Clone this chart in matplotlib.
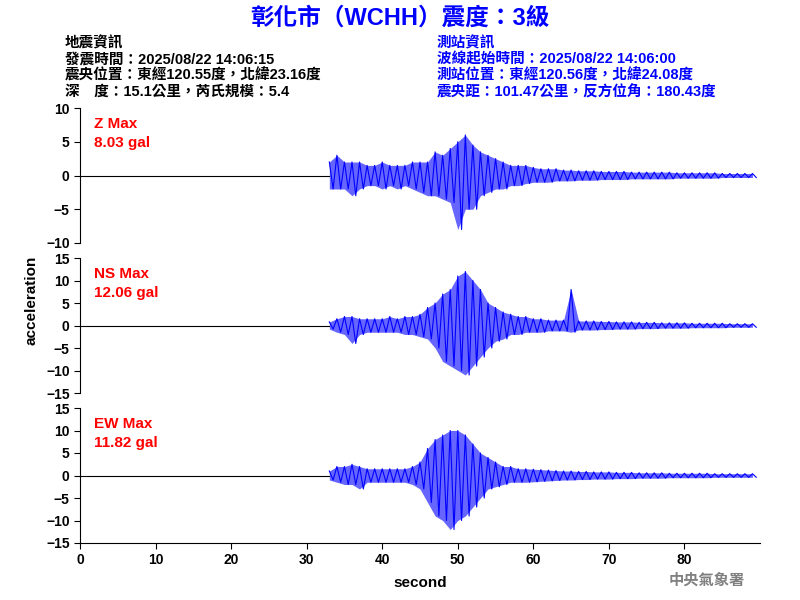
import matplotlib
matplotlib.use("Agg")
import matplotlib.pyplot as plt
import numpy as np

plt.rcParams['font.family'] = ['Liberation Sans', 'Noto Sans CJK TC', 'DejaVu Sans']

sec = list(range(33, 90))
z_up = [2,3,2,2,2,1.5,1.5,2,1.5,1.5,1.5,2,2,2,3.5,3,4,5,6,4.5,3.5,3,2.5,2,1.5,1.5,1.5,1.2,1,1,1,0.8,0.8,0.7,0.7,0.7,0.6,0.6,0.6,0.6,0.5,0.5,0.5,0.5,0.5,0.5,0.4,0.4,0.4,0.4,0.4,0.4,0.3,0.3,0.3,0.3,0.3]
z_lo = [-2,-2,-2,-3,-2,-1.5,-1.5,-2,-1.5,-2,-1.5,-2,-2.5,-3,-3,-3.5,-4,-8,-5,-5,-3,-2.5,-2,-2,-1.5,-1.5,-1.2,-1,-1,-1,-0.8,-0.8,-0.8,-0.7,-0.7,-0.7,-0.6,-0.6,-0.6,-0.6,-0.5,-0.5,-0.5,-0.5,-0.5,-0.5,-0.4,-0.4,-0.4,-0.4,-0.4,-0.4,-0.3,-0.3,-0.3,-0.3,-0.3]
ns_up = [0.8,1.5,2,2,1.5,1.5,1.5,1.5,2,1.5,2,2,2.5,4,5,7,8,11,12,10,8,5,4,3,2.5,2,2,1.5,1.5,1.2,1.2,1.2,8,1,1,1,0.9,0.9,0.8,0.8,0.8,0.7,0.7,0.7,0.6,0.6,0.6,0.6,0.5,0.5,0.5,0.5,0.5,0.4,0.4,0.4,0.4]
ns_lo = [-0.8,-1.5,-2,-4,-2,-1.5,-1.5,-1.5,-1.5,-1.5,-2,-2,-2.5,-3,-5,-8,-9,-10,-11,-9,-7,-5,-3.5,-3,-2,-2,-1.5,-1.5,-1.5,-1.2,-1.2,-1.2,-1.5,-1,-1,-1,-0.9,-0.9,-0.8,-0.8,-0.8,-0.7,-0.7,-0.7,-0.6,-0.6,-0.6,-0.6,-0.5,-0.5,-0.5,-0.5,-0.5,-0.4,-0.4,-0.4,-0.4]
ew_up = [1,2,2,2.5,2,1.5,1.5,1.5,1.5,1.5,1.5,2,3,6,8,9,10,10,9,7,5,4,3,2,2,1.5,1.5,1.4,1.3,1.2,1.1,1,1,0.9,0.9,0.8,0.8,0.8,0.7,0.7,0.7,0.6,0.6,0.6,0.6,0.5,0.5,0.5,0.5,0.5,0.5,0.4,0.4,0.4,0.4,0.4,0.4]
ew_lo = [-1,-1.5,-2,-2,-3,-1.5,-1.5,-1.5,-1.5,-1.5,-1.5,-2,-3,-6,-9,-10,-12,-10,-9,-7,-5,-3,-2.5,-2,-1.5,-1.5,-1.5,-1.4,-1.3,-1.2,-1.1,-1,-1,-0.9,-0.9,-0.8,-0.8,-0.8,-0.7,-0.7,-0.7,-0.6,-0.6,-0.6,-0.6,-0.5,-0.5,-0.5,-0.5,-0.5,-0.5,-0.4,-0.4,-0.4,-0.4,-0.4,-0.4]

labels = ["Z Max\n8.03 gal", "NS Max\n12.06 gal", "EW Max\n11.82 gal"]
ylims = [10, 15, 15]
yticks = [[-10,-5,0,5,10], [-15,-10,-5,0,5,10,15], [-15,-10,-5,0,5,10,15]]
series = [(z_up, z_lo), (ns_up, ns_lo), (ew_up, ew_lo)]

left_lines = ["地震資訊", "發震時間：2025/08/22 14:06:15", "震央位置：東經120.55度，北緯23.16度", "深　度：15.1公里，芮氏規模：5.4"]
right_lines = ["測站資訊", "波線起始時間：2025/08/22 14:06:00", "測站位置：東經120.56度，北緯24.08度", "震央距：101.47公里，反方位角：180.43度"]

fig = plt.figure(figsize=(8, 6), dpi=100)
tops = [108, 258, 408]
for i in range(3):
    ax = fig.add_axes([80/800, 1 - (tops[i]+135)/600, 680/800, 135/600])
    up, lo = series[i]
    xs, ys = [], []
    for t, u, l in zip(sec, up, lo):
        xs += [t, t + 0.5]
        ys += [u, l]
    ax.plot([0, sec[0]], [0, 0], color='black', lw=0.8)
    ax.fill_between(sec, lo, up, color='blue', alpha=0.6, lw=0)
    ax.plot(xs, ys, color='blue', lw=0.8)
    ax.set_xlim(0, 90)
    ax.set_ylim(-ylims[i], ylims[i])
    ax.set_yticks(yticks[i])
    ax.spines['top'].set_visible(False)
    ax.spines['right'].set_visible(False)
    ax.tick_params(labelsize=10, length=4)
    for t in ax.get_yticklabels():
        t.set_fontweight('bold')
    ax.text(0.02, 0.93, labels[i], transform=ax.transAxes, color='red', fontsize=11,
            fontweight='bold', va='top', linespacing=1.4)
    if i < 2:
        ax.spines['bottom'].set_visible(False)
        ax.set_xticks([])
    else:
        ax.set_xticks([0,10,20,30,40,50,60,70,80])
        for t in ax.get_xticklabels():
            t.set_fontweight('bold')
        ax.set_xlabel("second", fontsize=11, fontweight='bold', labelpad=6)

fig.text(0.5, 1-18/600, "彰化市（WCHH）震度：3級", color='blue', fontsize=17, fontweight='bold', ha='center', va='center')
for k, (a, b) in enumerate(zip(left_lines, right_lines)):
    y = 1 - (43 + k*16.3)/600
    fig.text(65/800, y, a, fontsize=10.5, fontweight='bold', va='center')
    fig.text(437/800, y, b, fontsize=10.5, fontweight='bold', color='blue', va='center')
fig.text(32/800, 0.5, "acceleration", rotation=90, fontsize=11, fontweight='bold', ha='center', va='center')
fig.text(745/800, 1-581/600, "中央氣象署", color='gray', fontsize=11, fontweight='bold', ha='right', va='center')
fig.savefig("out.png")
